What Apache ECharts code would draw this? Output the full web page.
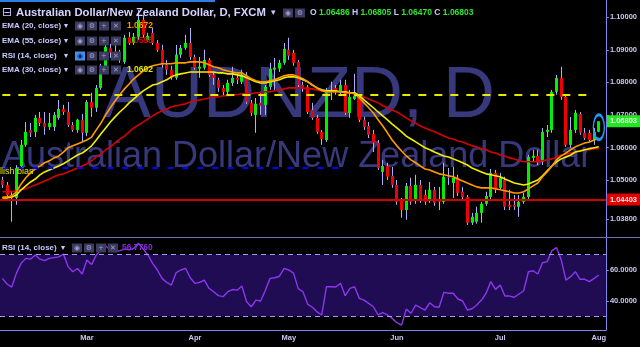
<!DOCTYPE html>
<html><head><meta charset="utf-8">
<script src="https://cdn.jsdelivr.net/npm/echarts@6/dist/echarts.min.js"></script>
<style>html,body{margin:0;padding:0;background:#000;}#c{width:640px;height:347px;}</style>
</head><body><div id="c"></div>
<script>
// ---- DATA ----
const dates = [
'02-03','02-06','02-07','02-08','02-09','02-10','02-13','02-14','02-15','02-16','02-17','02-20','02-21','02-22','02-23','02-24','02-27','02-28',
'03-01','03-02','03-03','03-06','03-07','03-08','03-09','03-10','03-13','03-14','03-15','03-16','03-17','03-20','03-21','03-22','03-23','03-24','03-27','03-28','03-29','03-30','03-31',
'04-03','04-04','04-05','04-06','04-07','04-10','04-11','04-12','04-13','04-14','04-17','04-18','04-19','04-20','04-21','04-24','04-25','04-26','04-27','04-28',
'05-01','05-02','05-03','05-04','05-05','05-08','05-09','05-10','05-11','05-12','05-15','05-16','05-17','05-18','05-19','05-22','05-23','05-24','05-25','05-26','05-29','05-30','05-31',
'06-01','06-02','06-05','06-06','06-07','06-08','06-09','06-12','06-13','06-14','06-15','06-16','06-19','06-20','06-21','06-22','06-23','06-26','06-27','06-28','06-29','06-30',
'07-03','07-04','07-05','07-06','07-07','07-10','07-11','07-12','07-13','07-14','07-17','07-18','07-19','07-20','07-21','07-24','07-25','07-26','07-27','07-28','07-31',
'08-01'];
const monthNames = {'03':'Mar','04':'Apr','05':'May','06':'Jun','07':'Jul','08':'Aug'};
// [open, close, low, high]
const candles = [
[1.0500,1.0485,1.0476,1.0510],[1.0485,1.0454,1.0448,1.0494],[1.0454,1.0445,1.0372,1.0464],[1.0445,1.0537,1.0424,1.0546],
[1.0543,1.0608,1.0537,1.0623],[1.0608,1.0648,1.0602,1.0678],[1.0654,1.0645,1.0632,1.0675],[1.0648,1.0691,1.0632,1.0700],
[1.0691,1.0675,1.0666,1.0709],[1.0675,1.0663,1.0639,1.0709],[1.0663,1.0675,1.0654,1.0706],[1.0663,1.0700,1.0651,1.0709],
[1.0691,1.0718,1.0685,1.0746],[1.0718,1.0709,1.0700,1.0731],[1.0709,1.0669,1.0663,1.0740],[1.0669,1.0654,1.0648,1.0678],
[1.0654,1.0685,1.0645,1.0688],[1.0685,1.0645,1.0617,1.0703],[1.0645,1.0740,1.0635,1.0746],[1.0740,1.0722,1.0694,1.0768],
[1.0722,1.0783,1.0709,1.0792],[1.0783,1.0845,1.0777,1.0857],[1.0845,1.0909,1.0832,1.0915],[1.0906,1.0891,1.0875,1.0918],
[1.0894,1.0885,1.0869,1.0915],[1.0885,1.0869,1.0860,1.0900],[1.0863,1.0937,1.0857,1.0946],[1.0937,1.0924,1.0915,1.0955],
[1.0921,1.0940,1.0915,1.0952],[1.0940,1.0992,1.0930,1.1022],[1.0992,1.0946,1.0937,1.1007],[1.0930,1.0943,1.0924,1.0952],
[1.0952,1.0921,1.0915,1.0967],[1.0921,1.0900,1.0894,1.0930],[1.0900,1.0854,1.0845,1.0915],[1.0854,1.0839,1.0823,1.0869],
[1.0839,1.0814,1.0808,1.0851],[1.0814,1.0885,1.0808,1.0915],[1.0885,1.0906,1.0875,1.0915],[1.0906,1.0921,1.0900,1.0946],
[1.0921,1.0878,1.0869,1.0967],[1.0878,1.0845,1.0839,1.0885],[1.0842,1.0848,1.0814,1.0878],[1.0845,1.0869,1.0839,1.0900],
[1.0869,1.0823,1.0817,1.0875],[1.0823,1.0814,1.0792,1.0832],[1.0808,1.0783,1.0771,1.0814],[1.0783,1.0771,1.0759,1.0792],
[1.0771,1.0798,1.0762,1.0808],[1.0798,1.0814,1.0789,1.0848],[1.0814,1.0808,1.0795,1.0826],[1.0802,1.0823,1.0795,1.0839],
[1.0823,1.0740,1.0734,1.0832],[1.0737,1.0706,1.0697,1.0746],[1.0700,1.0734,1.0645,1.0752],[1.0737,1.0728,1.0700,1.0771],
[1.0731,1.0786,1.0700,1.0792],[1.0786,1.0842,1.0777,1.0860],[1.0839,1.0845,1.0777,1.0875],[1.0842,1.0860,1.0832,1.0869],
[1.0860,1.0903,1.0854,1.0921],[1.0900,1.0882,1.0869,1.0937],[1.0891,1.0860,1.0851,1.0900],[1.0863,1.0792,1.0783,1.0869],
[1.0792,1.0786,1.0771,1.0802],[1.0786,1.0709,1.0703,1.0792],[1.0715,1.0691,1.0685,1.0737],[1.0691,1.0648,1.0642,1.0700],
[1.0648,1.0626,1.0608,1.0654],[1.0623,1.0771,1.0617,1.0783],[1.0774,1.0777,1.0746,1.0802],[1.0783,1.0774,1.0762,1.0792],
[1.0771,1.0792,1.0762,1.0808],[1.0792,1.0706,1.0700,1.0808],[1.0706,1.0755,1.0691,1.0777],[1.0749,1.0759,1.0746,1.0826],
[1.0752,1.0685,1.0678,1.0762],[1.0685,1.0663,1.0654,1.0694],[1.0666,1.0639,1.0629,1.0678],[1.0642,1.0614,1.0586,1.0654],
[1.0614,1.0537,1.0531,1.0623],[1.0525,1.0543,1.0485,1.0562],[1.0543,1.0510,1.0500,1.0553],[1.0513,1.0485,1.0476,1.0540],
[1.0485,1.0433,1.0424,1.0500],[1.0439,1.0408,1.0384,1.0445],[1.0408,1.0482,1.0378,1.0491],[1.0482,1.0433,1.0424,1.0507],
[1.0439,1.0485,1.0427,1.0516],[1.0485,1.0439,1.0430,1.0500],[1.0454,1.0433,1.0424,1.0470],[1.0439,1.0470,1.0430,1.0494],
[1.0470,1.0430,1.0421,1.0479],[1.0439,1.0433,1.0408,1.0479],[1.0433,1.0510,1.0427,1.0553],[1.0510,1.0507,1.0485,1.0537],
[1.0491,1.0507,1.0445,1.0540],[1.0507,1.0460,1.0451,1.0516],[1.0464,1.0448,1.0439,1.0479],[1.0448,1.0369,1.0362,1.0454],
[1.0369,1.0387,1.0362,1.0399],[1.0372,1.0399,1.0366,1.0418],[1.0399,1.0427,1.0369,1.0433],[1.0427,1.0451,1.0421,1.0464],
[1.0448,1.0522,1.0439,1.0534],[1.0522,1.0470,1.0460,1.0531],[1.0476,1.0507,1.0470,1.0522],[1.0500,1.0418,1.0408,1.0510],
[1.0424,1.0418,1.0408,1.0470],[1.0424,1.0418,1.0408,1.0454],[1.0418,1.0433,1.0387,1.0454],[1.0433,1.0448,1.0427,1.0460],
[1.0448,1.0571,1.0442,1.0577],[1.0568,1.0574,1.0556,1.0593],[1.0574,1.0556,1.0546,1.0593],[1.0556,1.0648,1.0546,1.0660],
[1.0648,1.0654,1.0632,1.0669],[1.0654,1.0771,1.0645,1.0777],[1.0771,1.0814,1.0762,1.0823],[1.0814,1.0755,1.0746,1.0848],
[1.0755,1.0608,1.0602,1.0762],[1.0608,1.0654,1.0599,1.0694],[1.0654,1.0706,1.0645,1.0715],[1.0703,1.0645,1.0639,1.0709],
[1.0645,1.0629,1.0623,1.0660],[1.0645,1.0623,1.0617,1.0654],[1.0623,1.0648,1.0608,1.0660],[1.06486,1.06803,1.06470,1.06805]];
const ema20 = [
1.0448,1.0448,1.0451,1.0464,1.0488,1.0507,1.0522,1.0534,1.0543,1.0553,
1.0559,1.0568,1.0574,1.0586,1.0599,1.0605,1.0611,1.0617,1.0623,1.0632,
1.0654,1.0675,1.0700,1.0722,1.0743,1.0762,1.0780,1.0795,1.0811,1.0823,
1.0835,1.0845,1.0851,1.0854,1.0857,1.0857,1.0857,1.0860,1.0860,1.0860,
1.0863,1.0863,1.0863,1.0860,1.0854,1.0848,1.0845,1.0839,1.0835,1.0832,
1.0829,1.0829,1.0820,1.0811,1.0805,1.0802,1.0802,1.0805,1.0808,1.0814,
1.0820,1.0823,1.0823,1.0817,1.0811,1.0802,1.0792,1.0783,1.0774,1.0771,
1.0771,1.0771,1.0771,1.0768,1.0768,1.0765,1.0752,1.0737,1.0722,1.0706,
1.0685,1.0666,1.0645,1.0623,1.0605,1.0589,1.0574,1.0562,1.0553,1.0543,
1.0534,1.0531,1.0525,1.0519,1.0516,1.0513,1.0510,1.0503,1.0497,1.0491,
1.0485,1.0479,1.0476,1.0476,1.0476,1.0473,1.0470,1.0467,1.0464,1.0460,
1.0460,1.0464,1.0473,1.0482,1.0491,1.0510,1.0525,1.0543,1.0562,1.0574,
1.0583,1.0593,1.0602,1.0608,1.0614,1.0617,1.0623,1.0629];
const ema30 = [
1.0445,1.0445,1.0448,1.0454,1.0470,1.0482,1.0494,1.0503,1.0516,1.0525,
1.0531,1.0537,1.0543,1.0550,1.0559,1.0568,1.0577,1.0583,1.0593,1.0605,
1.0623,1.0642,1.0660,1.0678,1.0694,1.0709,1.0722,1.0737,1.0749,1.0762,
1.0774,1.0783,1.0792,1.0795,1.0802,1.0808,1.0817,1.0823,1.0826,1.0829,
1.0832,1.0832,1.0832,1.0832,1.0832,1.0832,1.0829,1.0829,1.0826,1.0826,
1.0823,1.0820,1.0814,1.0808,1.0802,1.0798,1.0798,1.0802,1.0805,1.0808,
1.0814,1.0817,1.0817,1.0814,1.0808,1.0802,1.0792,1.0783,1.0777,1.0774,
1.0774,1.0774,1.0771,1.0771,1.0768,1.0768,1.0759,1.0746,1.0734,1.0722,
1.0709,1.0697,1.0685,1.0672,1.0660,1.0648,1.0635,1.0626,1.0617,1.0608,
1.0599,1.0593,1.0586,1.0580,1.0574,1.0571,1.0565,1.0559,1.0553,1.0546,
1.0537,1.0531,1.0525,1.0519,1.0516,1.0513,1.0510,1.0503,1.0497,1.0491,
1.0488,1.0485,1.0488,1.0494,1.0500,1.0513,1.0528,1.0543,1.0556,1.0565,
1.0571,1.0577,1.0586,1.0589,1.0593,1.0596,1.0599,1.0602];
const ema55 = [
1.0464,1.0464,1.0464,1.0467,1.0470,1.0473,1.0479,1.0485,1.0491,1.0497,
1.0503,1.0510,1.0516,1.0519,1.0525,1.0531,1.0537,1.0543,1.0550,1.0559,
1.0571,1.0580,1.0593,1.0602,1.0614,1.0626,1.0635,1.0648,1.0660,1.0669,
1.0678,1.0688,1.0697,1.0706,1.0712,1.0718,1.0725,1.0728,1.0731,1.0734,
1.0740,1.0743,1.0746,1.0749,1.0752,1.0755,1.0755,1.0759,1.0759,1.0762,
1.0762,1.0765,1.0765,1.0765,1.0768,1.0768,1.0771,1.0771,1.0774,1.0777,
1.0780,1.0783,1.0783,1.0783,1.0783,1.0780,1.0780,1.0777,1.0774,1.0771,
1.0771,1.0771,1.0771,1.0768,1.0768,1.0765,1.0762,1.0755,1.0749,1.0743,
1.0737,1.0728,1.0722,1.0715,1.0709,1.0700,1.0691,1.0682,1.0675,1.0666,
1.0660,1.0654,1.0648,1.0642,1.0635,1.0629,1.0626,1.0620,1.0617,1.0611,
1.0605,1.0602,1.0596,1.0593,1.0586,1.0583,1.0577,1.0574,1.0568,1.0565,
1.0559,1.0556,1.0556,1.0556,1.0556,1.0559,1.0562,1.0565,1.0571,1.0577,
1.0580,1.0583,1.0586,1.0589,1.0593,1.0593,1.0596,1.0596];
const rsi14 = [
54.6,51,49,58,64.3,67.5,67,69.7,67,66,
67.5,68,68.5,70.3,62.2,58.9,61,57.4,66.5,63.5,
69.7,73,75.5,73,71.8,72.5,73.5,73,74,77.2,
73.5,69.7,64.3,60,54.6,52,50.3,58.3,60,61.1,
55,51.4,52,53.5,48.2,46,43.5,42.8,46,47.4,
47,49.7,39.5,36.3,40.6,40,47,54.6,55,56,
61.1,60,58,48,46,38,36,33,31,49.2,
49.2,49,51.4,43.4,48.2,49.2,41.7,40.6,38.5,36.3,
31,32.5,31,28.8,26,24.5,34.8,32.1,37.4,35.7,
34.2,38.9,36.3,36,45.6,45,45,41.3,40,34.2,
35,37.4,40.6,45,52.5,47.5,50.3,43.2,43.2,42.4,
44.5,46.6,58.9,59.5,57.4,64.7,65.4,72.5,74.4,66.5,
53.5,55.7,58.9,54,54,52.5,54.6,56.776];
const priceTicks = [1.038, 1.05, 1.06, 1.07, 1.08, 1.09, 1.10];
const rsiTicks = [40, 60];
const rsiBands = [30, 70];
const supportLevel = 1.04403;
const resistanceLevel = 1.0762;
const biasLevel = 1.0537;
const legendValues = ['1.0672', '1.0598', '', '1.0602'];
const rsiValueText = '56.7760';

// ---- CHART ----
const FONT = 'Liberation Sans';
const LAV = '#c8c8ff';
const AX = '#8585ee';
const xCats = dates.concat(['']);
const isMonthStart = (idx) => idx > 0 && idx < dates.length && dates[idx].slice(0,2) !== dates[idx-1].slice(0,2);
const last = candles[candles.length - 1];

const g = [];
g.push({type:'text', x:103, y:97, z:0, style:{text:'AUDNZD, D', fontSize:72, fontFamily:FONT, fill:'#38387c', verticalAlign:'middle'}});
g.push({type:'text', x:2, y:157, z:0, style:{text:'Australian Dollar/New Zealand Dollar', fontSize:36, fontFamily:FONT, fill:'#38387c', verticalAlign:'middle'}});
g.push({type:'rect', z:10, shape:{x:0,y:0,width:215,height:2}, style:{fill:'#2d7fe6'}});
g.push({type:'line', z:10, shape:{x1:0,y1:237.5,x2:640,y2:237.5}, style:{stroke:'#6e6ebe', lineWidth:1}});
g.push({type:'text', x:2, y:13, z:10, style:{text:'\u229F', fontSize:12, fontFamily:'DejaVu Sans', fill:LAV, verticalAlign:'middle'}});
g.push({type:'text', x:16, y:13, z:10, style:{text:'Australian Dollar/New Zealand Dollar, D, FXCM', fontSize:11.3, fontWeight:'bold', fontFamily:FONT, fill:'#d4d4ff', verticalAlign:'middle'}});
g.push({type:'text', x:271, y:13, z:10, style:{text:'\u25BE', fontSize:9, fontFamily:'DejaVu Sans', fill:LAV, verticalAlign:'middle'}});
function iconBox(x, y, glyph, hi) {
  g.push({type:'rect', z:10, shape:{x:x, y:y-4.5, width:10, height:9}, style:{fill: hi ? '#3f8ff0' : '#3b3b60'}});
  g.push({type:'text', x:x+5, y:y, z:11, style:{text:glyph, fontSize:7, fontFamily:'DejaVu Sans', fill: hi ? '#0c1c55' : '#a0a0cc', align:'center', verticalAlign:'middle'}});
}
iconBox(283, 13, '\u25C9', false); iconBox(295, 13, '\u2699', false);
const k = {fill:LAV, fontSize:8.5, fontWeight:'bold', fontFamily:FONT};
const v = {fill:'#2ee62e', fontSize:8.5, fontWeight:'bold', fontFamily:FONT};
g.push({type:'text', x:310, y:13, z:10, style:{
  text:'{k|O} {v|'+last[0].toFixed(5)+'} {k|H} {v|'+last[3].toFixed(5)+'} {k|L} {v|'+last[2].toFixed(5)+'} {k|C} {v|'+last[1].toFixed(5)+'}',
  rich:{k:k, v:v}, verticalAlign:'middle', fontSize:8.5, fontFamily:FONT}});
const rows = [['EMA (20, close)', 26, '#ff9a00'], ['EMA (55, close)', 41, '#e00000'], ['RSI (14, close)', 56, null], ['EMA (30, close)', 70, '#e6e600']];
rows.forEach((r, idx) => {
  g.push({type:'text', x:2, y:r[1], z:10, style:{text:r[0], fontSize:8, fontWeight:'bold', fontFamily:FONT, fill:LAV, verticalAlign:'middle'}});
  g.push({type:'text', x:64, y:r[1], z:10, style:{text:'\u25BE', fontSize:8, fontFamily:'DejaVu Sans', fill:LAV, verticalAlign:'middle'}});
  iconBox(75, r[1], '\u25C9', idx === 2); iconBox(87, r[1], '\u2699', false); iconBox(99, r[1], '+', false); iconBox(111, r[1], '\u2715', false);
  if (legendValues[idx]) g.push({type:'text', x:127, y:r[1], z:10, style:{text:legendValues[idx], fontSize:8.5, fontWeight:'bold', fontFamily:FONT, fill:r[2], verticalAlign:'middle'}});
});
g.push({type:'text', x:2, y:248, z:10, style:{text:'RSI (14, close)', fontSize:8, fontWeight:'bold', fontFamily:FONT, fill:LAV, verticalAlign:'middle'}});
g.push({type:'text', x:61, y:248, z:10, style:{text:'\u25BE', fontSize:8, fontFamily:'DejaVu Sans', fill:LAV, verticalAlign:'middle'}});
iconBox(72, 248, '\u25C9', false); iconBox(84, 248, '\u2699', false); iconBox(96, 248, '+', false); iconBox(108, 248, '\u2715', false);
g.push({type:'text', x:122, y:248, z:10, style:{text:rsiValueText, fontSize:8.5, fontWeight:'bold', fontFamily:FONT, fill:'#8a2be2', verticalAlign:'middle'}});
g.push({type:'text', x:-12, y:172, z:10, style:{text:'Bullish bias', fontSize:9, fontFamily:FONT, fill:'#e6e600', verticalAlign:'middle'}});

const axisLabelStyle = {color:'#c8c8f0', fontSize:7.5, fontWeight:'bold', fontFamily:FONT};

const option = {
  backgroundColor:'#000000',
  animation:false,
  grid:[{left:-1, width:607, top:0, height:237}, {left:-1, width:607, top:238, height:92}],
  xAxis:[
    {type:'category', gridIndex:0, data:xCats, boundaryGap:true, show:false},
    {type:'category', gridIndex:1, data:xCats, boundaryGap:true,
     axisLine:{lineStyle:{color:AX}},
     axisTick:{interval:(i)=>isMonthStart(i), alignWithLabel:true, length:3, lineStyle:{color:AX}},
     axisLabel:Object.assign({interval:(i)=>isMonthStart(i), margin:4, formatter:(val)=>monthNames[val.slice(0,2)] || ''}, axisLabelStyle),
     splitLine:{show:false}}
  ],
  yAxis:[
    {type:'value', gridIndex:0, position:'right', min:1.0325, max:1.1053, scale:true,
     axisLine:{show:true, lineStyle:{color:AX}},
     axisTick:{show:true, length:3, customValues:priceTicks, lineStyle:{color:AX}},
     axisLabel:Object.assign({customValues:priceTicks, margin:4, formatter:(val)=>val.toFixed(5)}, axisLabelStyle),
     splitLine:{show:false}},
    {type:'value', gridIndex:1, position:'right', min:21.3, max:80.65,
     axisLine:{show:true, lineStyle:{color:AX}},
     axisTick:{show:true, length:3, customValues:rsiTicks, lineStyle:{color:AX}},
     axisLabel:Object.assign({customValues:rsiTicks, margin:4, formatter:(val)=>val.toFixed(4)}, axisLabelStyle),
     splitLine:{show:false}}
  ],
  graphic:g,
  series:[
    {type:'custom', name:'RSI band', xAxisIndex:1, yAxisIndex:1, z:1, silent:true,
     data:[[0, rsiBands[0], rsiBands[1]]],
     encode:{x:0, y:[1,2]},
     renderItem:function(params, api){
       const cs = params.coordSys;
       const lo = api.coord([0, api.value(1)]);
       const hi = api.coord([0, api.value(2)]);
       return {type:'rect', shape:{x:cs.x, y:hi[1], width:cs.width, height:lo[1]-hi[1]}, style:{fill:'#1f0c52'}};
     }},
    {type:'custom', name:'AUDNZD', xAxisIndex:0, yAxisIndex:0, z:3,
     data:candles.map((c,i)=>[i, c[0], c[1], c[2], c[3]]),
     encode:{x:0, y:[1,2,3,4]},
     renderItem:function(params, api){
       const i = api.value(0);
       const o = api.coord([i, api.value(1)]);
       const c = api.coord([i, api.value(2)]);
       const l = api.coord([i, api.value(3)]);
       const h = api.coord([i, api.value(4)]);
       const up = api.value(2) >= api.value(1);
       const bx = Math.round(o[0] - 1.5);
       const top = Math.min(o[1], c[1]), bot = Math.max(o[1], c[1]);
       return {type:'group', children:[
         {type:'line', shape:{x1:bx+1.5, y1:h[1], x2:bx+1.5, y2:l[1]}, style:{stroke:'#aeb0ff', lineWidth:1}},
         {type:'rect', shape:{x:bx, y:top, width:3, height:Math.max(1, bot-top)}, style:{fill: up ? '#00f000' : '#f00000'}}
       ]};
     }},
    {type:'line', name:'EMA55', xAxisIndex:0, yAxisIndex:0, data:ema55, showSymbol:false, z:4,
     lineStyle:{color:'#d80000', width:1.6}, itemStyle:{color:'#d80000'},
     markLine:{silent:true, symbol:'none', animation:false, precision:6, data:[
       {yAxis:supportLevel, lineStyle:{color:'#d00000', width:2, type:'solid'},
        label:{show:true, position:'end', distance:1, formatter:supportLevel.toFixed(5), backgroundColor:'#e00000', color:'#ffe8e8', padding:[2,3,2,3], fontSize:7.5, fontWeight:'bold', fontFamily:FONT}},
       {yAxis:last[1], lineStyle:{color:'rgba(0,0,0,0)', width:0},
        label:{show:true, position:'end', distance:1, formatter:last[1].toFixed(5), backgroundColor:'#22e622', color:'#e8ffe8', padding:[2,3,2,3], fontSize:7.5, fontWeight:'bold', fontFamily:FONT}},
       [{coord:[dates[0], resistanceLevel]}, {coord:[dates[126], resistanceLevel], lineStyle:{color:'#e8e800', width:2, type:[8,8]}, label:{show:false}}],
       [{coord:[dates[0], biasLevel]}, {coord:[dates[73], biasLevel], lineStyle:{color:'#0000ff', width:2, type:[6,9]}, label:{show:false}}]
     ]},
     markPoint:{silent:true, animation:false, data:[
       {coord:[dates[127], 1.0662], symbol:'circle', symbolSize:[11,25], itemStyle:{color:'rgba(0,0,0,0)', borderColor:'#1e9bff', borderWidth:2}, label:{show:false}}
     ]}},
    {type:'line', name:'EMA30', xAxisIndex:0, yAxisIndex:0, data:ema30, showSymbol:false, z:4,
     lineStyle:{color:'#f2ee00', width:1.6}},
    {type:'line', name:'EMA20', xAxisIndex:0, yAxisIndex:0, data:ema20, showSymbol:false, z:4,
     lineStyle:{color:'#ff9a00', width:1.6}},
    {type:'line', name:'RSI', xAxisIndex:1, yAxisIndex:1, data:rsi14, showSymbol:false, z:4,
     lineStyle:{color:'#8e35ef', width:1.4},
     markLine:{silent:true, symbol:'none', label:{show:false}, lineStyle:{color:'#a898f0', width:1, type:[5,4]},
       data:[{yAxis:rsiBands[0]}, {yAxis:rsiBands[1]}]}}
  ]
};
const chart = echarts.init(document.getElementById('c'), null, {renderer:'canvas'});
chart.setOption(option);
</script>
</body></html>
